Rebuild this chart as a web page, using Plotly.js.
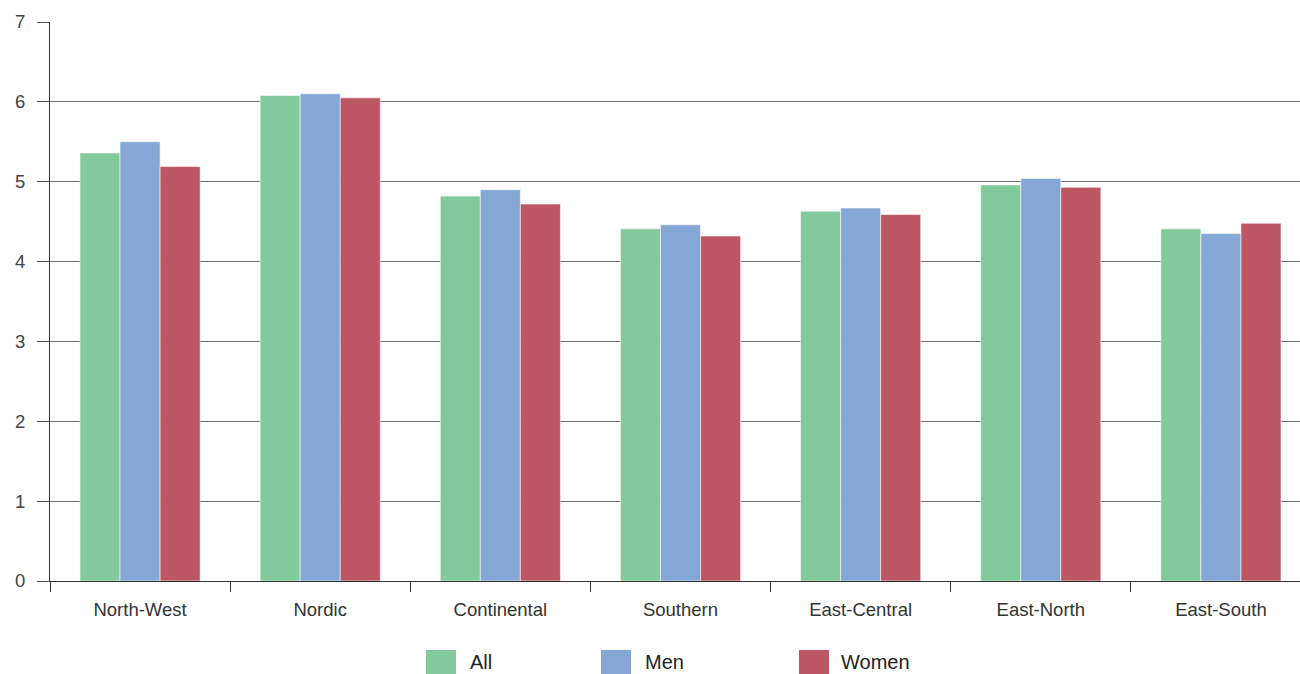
<!DOCTYPE html>
<html>
<head>
<meta charset="utf-8">
<script src="https://cdn.plot.ly/plotly-3.0.1.min.js"></script>
<style>
  html, body { margin: 0; padding: 0; background: #fff; }
  #chart { width: 1300px; height: 674px; }
</style>
</head>
<body>
<div id="chart"></div>
<script>
// ---- Data ----
const categories = ["North-West", "Nordic", "Continental", "Southern", "East-Central", "East-North", "East-South"];
const seriesNames = ["All", "Men", "Women"];
const allValues   = [5.36, 6.08, 4.82, 4.41, 4.63, 4.96, 4.41];
const menValues   = [5.50, 6.10, 4.90, 4.46, 4.67, 5.04, 4.35];
const womenValues = [5.19, 6.05, 4.72, 4.32, 4.59, 4.93, 4.48];
const yTickValues = [0, 1, 2, 3, 4, 5, 6, 7];

// ---- Styles ----
const colors = ["#82CA9C", "#84A7D6", "#BD5763"];
const fontFamily = "'Liberation Sans', Arial, Helvetica, sans-serif";
const textColor = "#333333";

const seriesValues = [allValues, menValues, womenValues];
const traces = seriesNames.map((name, i) => ({
  type: "bar",
  name: name,
  x: categories,
  y: seriesValues[i],
  marker: { color: colors[i], line: { color: "rgba(255,255,255,0.55)", width: 1 } },
  hoverinfo: "x+y+name"
}));

// custom legend (large square swatches)
const legendPos = [
  { sx0: 0.3008, sx1: 0.3248, tx: 0.3344 },
  { sx0: 0.4408, sx1: 0.4648, tx: 0.4744 },
  { sx0: 0.5992, sx1: 0.6232, tx: 0.6312 }
];
const shapes = [];
const annotations = [];
seriesNames.forEach((name, i) => {
  shapes.push({
    type: "rect", xref: "paper", yref: "paper",
    x0: legendPos[i].sx0, x1: legendPos[i].sx1, y0: -0.1234, y1: -0.1664,
    fillcolor: colors[i], line: { width: 0 }
  });
  annotations.push({
    xref: "paper", yref: "paper", x: legendPos[i].tx, y: -0.1449,
    xanchor: "left", yanchor: "middle", showarrow: false,
    text: name, font: { family: fontFamily, size: 20, color: "#222" }
  });
});

const layout = {
  width: 1300, height: 674,
  margin: { l: 50, r: 0, t: 22, b: 93, pad: 0 },
  paper_bgcolor: "#ffffff",
  plot_bgcolor: "#ffffff",
  showlegend: false,
  barmode: "group",
  bargap: 0.333,
  bargroupgap: 0,
  font: { family: fontFamily, color: textColor, size: 18 },
  xaxis: {
    type: "category",
    range: [-0.5, 6.439],
    tickson: "boundaries",
    ticks: "outside", ticklen: 10, tickwidth: 1, tickcolor: "#333",
    showline: true, linecolor: "#333", linewidth: 1,
    showgrid: false, zeroline: false,
    tickfont: { family: fontFamily, size: 18.5, color: textColor },
    ticklabelstandoff: 12,
    fixedrange: true
  },
  yaxis: {
    range: [0, 7],
    tickvals: yTickValues,
    ticktext: yTickValues.map(String),
    ticks: "outside", ticklen: 12, tickwidth: 1, tickcolor: "#555",
    showline: true, linecolor: "#333", linewidth: 1,
    showgrid: true, gridcolor: "#6f6f6f", gridwidth: 1,
    zeroline: false,
    tickfont: { family: fontFamily, size: 18.5, color: "#444" },
    ticklabelstandoff: 8,
    fixedrange: true
  },
  shapes: shapes,
  annotations: annotations
};

Plotly.newPlot("chart", traces, layout, { displayModeBar: false, staticPlot: true });
</script>
</body>
</html>
